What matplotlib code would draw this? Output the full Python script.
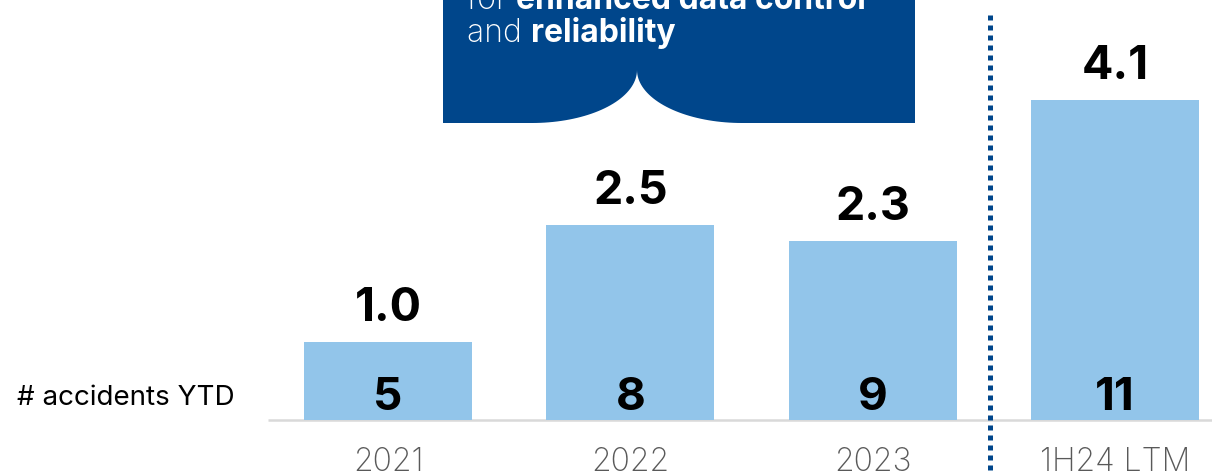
import numpy as np
import matplotlib
matplotlib.use("Agg")
import matplotlib.pyplot as plt
from matplotlib.path import Path
from matplotlib.patches import PathPatch

plt.rcParams["font.family"] = ["Inter", "DejaVu Sans"]

# Data
periods = ["2021", "2022", "2023", "1H24 LTM"]
rate = [1.0, 2.5, 2.3, 4.1]
accidents = [5, 8, 9, 11]

BAR_COLOR = "#92C5EA"
NAVY = "#00468B"
W, H = 1212, 475
DPI = 100

fig = plt.figure(figsize=(W / DPI, H / DPI), dpi=DPI)

# Main bar axes spans the whole canvas; limits place the baseline and bars
ax = fig.add_axes([0, 0, 1, 1])
px_per_cat = 242.33
px_per_unit = 78.0
x0_px, base_px = 388, 420
ax.set_xlim((0 - x0_px) / px_per_cat, (W - x0_px) / px_per_cat)
ax.set_ylim(-(H - base_px) / px_per_unit, base_px / px_per_unit)
ax.axis("off")

x = np.arange(len(periods))
ax.bar(x, rate, width=0.693, color=BAR_COLOR, zorder=2)

# Baseline
ax.plot([(268 - x0_px) / px_per_cat, (W - x0_px) / px_per_cat], [0, 0],
        color="#D9D9D9", lw=1.8, zorder=1, solid_capstyle="butt")

# Separator between full years and LTM
sep_x = (990 - x0_px) / px_per_cat
ax.plot([sep_x, sep_x], [(base_px - 15) / px_per_unit, -(H - base_px) / px_per_unit],
        color=NAVY, lw=3.6, linestyle=(0, (1.0, 1.0)), dash_capstyle="butt", zorder=3)

for xi, r, n, lab in zip(x, rate, accidents, periods):
    ax.annotate(f"{r:.1f}", (xi, r), xytext=(0, 15), textcoords="offset points",
                ha="center", va="baseline", fontsize=33.5, fontweight="bold", color="black")
    ax.annotate(f"{n}", (xi, 0), xytext=(0, 7.5), textcoords="offset points",
                ha="center", va="baseline", fontsize=33, fontweight="bold", color="black")
    ax.annotate(lab, (xi, 0), xytext=(0, -37), textcoords="offset points",
                ha="center", va="baseline", fontsize=23, fontweight="light", color="#595959")

ax.annotate("# accidents YTD", (0, 0), xytext=((17 - x0_px) * 0.72, 15 * 0.72),
            textcoords="offset points",
            ha="left", va="baseline", fontsize=20, color="black")

# Callout box (pixel overlay)
ov = fig.add_axes([0, 0, 1, 1], zorder=5)
ov.set_xlim(0, W)
ov.set_ylim(H, 0)
ov.axis("off")
ov.patch.set_alpha(0)

left, right, top, bottom = 443, 915, -5, 123
tip_x, tip_y = 637, 70
rx, ry = 105, bottom - tip_y
t = np.linspace(0, np.pi / 2, 40)
# right arc from (tip_x+rx, bottom) up to tip
right_arc = np.column_stack([tip_x + rx - rx * np.sin(t), tip_y + ry * np.cos(t)])
# left arc from tip down to (tip_x-rx, bottom)
left_arc = np.column_stack([tip_x - rx + rx * np.sin(t[::-1]), tip_y + ry * np.cos(t[::-1])])
verts = [(left, top), (right, top), (right, bottom)]
verts += [tuple(p) for p in right_arc]
verts += [tuple(p) for p in left_arc]
verts += [(left, bottom), (left, top)]
codes = [Path.MOVETO] + [Path.LINETO] * (len(verts) - 2) + [Path.CLOSEPOLY]
ov.add_patch(PathPatch(Path(verts, codes), facecolor=NAVY, edgecolor="none"))

def mixed_line(parts, x, y, size):
    """Draw consecutive text runs with differing weights on one baseline."""
    r = fig.canvas.get_renderer()
    cur = x
    for s, wgt in parts:
        txt = ov.text(cur, y, s, fontsize=size, fontweight=wgt, color="white",
                      ha="left", va="baseline")
        bb = txt.get_window_extent(renderer=r)
        cur += bb.width
    return cur

mixed_line([("for ", "light"), ("enhanced data control", "bold")], 467, 9, 23)
mixed_line([("and ", "light"), ("reliability", "bold")], 467, 42, 23)

fig.savefig("out.png", dpi=DPI)
